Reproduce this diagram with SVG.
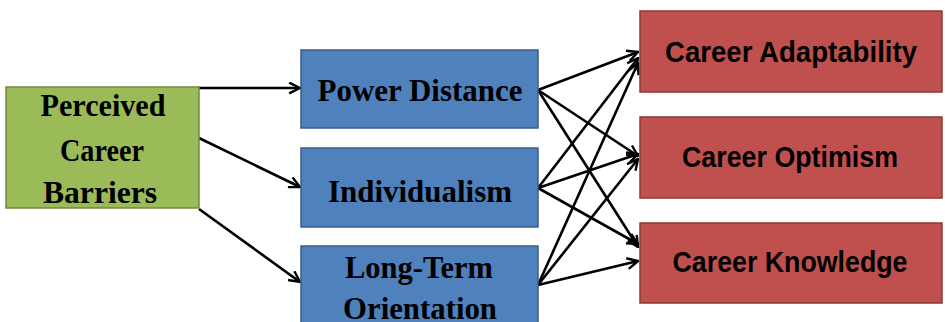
<svg xmlns="http://www.w3.org/2000/svg" width="945" height="322" viewBox="0 0 945 322">
  <style>
    .green { fill: #9BBB59; stroke: #71893F; stroke-width: 1.5; }
    .blue { fill: #4F81BD; stroke: #385D8A; stroke-width: 1.5; }
    .red { fill: #C0504D; stroke: #8C3836; stroke-width: 1.5; }
    .serif { font-family: "Liberation Serif", "Times New Roman", serif; font-weight: bold; font-size: 32px; fill: #000; text-anchor: middle; }
    .sans { font-family: "Liberation Sans", Arial, sans-serif; font-weight: bold; font-size: 29px; fill: #000; text-anchor: middle; }
    .link { stroke: #000; stroke-width: 2.6; fill: none; marker-end: url(#arrow); }
  </style>
  <defs>
    <marker id="arrow" viewBox="0 0 12 12" refX="11" refY="6" markerWidth="13" markerHeight="13" markerUnits="userSpaceOnUse" orient="auto">
      <path d="M1,1 L11,6 L1,11" fill="none" stroke="#000" stroke-width="2.2"/>
    </marker>
  </defs>
  <rect width="945" height="322" fill="#fff"/>

  <g id="connectors">
    <!-- barriers to cultural values -->
    <path class="link" d="M199,88 L300,88"/>
    <path class="link" d="M199,138 L300,187"/>
    <path class="link" d="M199,209 L300,282"/>
    <!-- cultural values to outcomes -->
    <path class="link" d="M538,90 L638,52"/>
    <path class="link" d="M538,90 L638,156"/>
    <path class="link" d="M538,90 L638,247"/>
    <path class="link" d="M538,188 L638,58"/>
    <path class="link" d="M538,188 L638,154"/>
    <path class="link" d="M538,188 L638,244"/>
    <path class="link" d="M538,285 L638,63"/>
    <path class="link" d="M538,285 L638,159"/>
    <path class="link" d="M538,285 L638,261"/>
  </g>

  <g id="perceived-career-barriers">
    <rect class="green" x="6" y="87" width="193" height="121"/>
    <text class="serif" x="103" y="116" textLength="125" lengthAdjust="spacingAndGlyphs">Perceived</text>
    <text class="serif" x="102" y="161" textLength="84" lengthAdjust="spacingAndGlyphs">Career</text>
    <text class="serif" x="100" y="203" textLength="114" lengthAdjust="spacingAndGlyphs">Barriers</text>
  </g>

  <g id="power-distance">
    <rect class="blue" x="301" y="50" width="237" height="78"/>
    <text class="serif" x="420" y="101" textLength="205" lengthAdjust="spacingAndGlyphs">Power Distance</text>
  </g>

  <g id="individualism">
    <rect class="blue" x="301" y="148" width="237" height="79"/>
    <text class="serif" x="420" y="202" textLength="184" lengthAdjust="spacingAndGlyphs">Individualism</text>
  </g>

  <g id="long-term-orientation">
    <rect class="blue" x="301" y="246" width="237" height="90"/>
    <text class="serif" x="419" y="278" textLength="148" lengthAdjust="spacingAndGlyphs">Long-Term</text>
    <text class="serif" x="420" y="319" textLength="154" lengthAdjust="spacingAndGlyphs">Orientation</text>
  </g>

  <g id="career-adaptability">
    <rect class="red" x="640" y="11" width="302" height="81"/>
    <text class="sans" x="791" y="62" textLength="252" lengthAdjust="spacingAndGlyphs">Career Adaptability</text>
  </g>

  <g id="career-optimism">
    <rect class="red" x="640" y="117" width="302" height="81"/>
    <text class="sans" x="790" y="167" textLength="216" lengthAdjust="spacingAndGlyphs">Career Optimism</text>
  </g>

  <g id="career-knowledge">
    <rect class="red" x="640" y="223" width="302" height="80"/>
    <text class="sans" x="790" y="272" textLength="235" lengthAdjust="spacingAndGlyphs">Career Knowledge</text>
  </g>
</svg>
